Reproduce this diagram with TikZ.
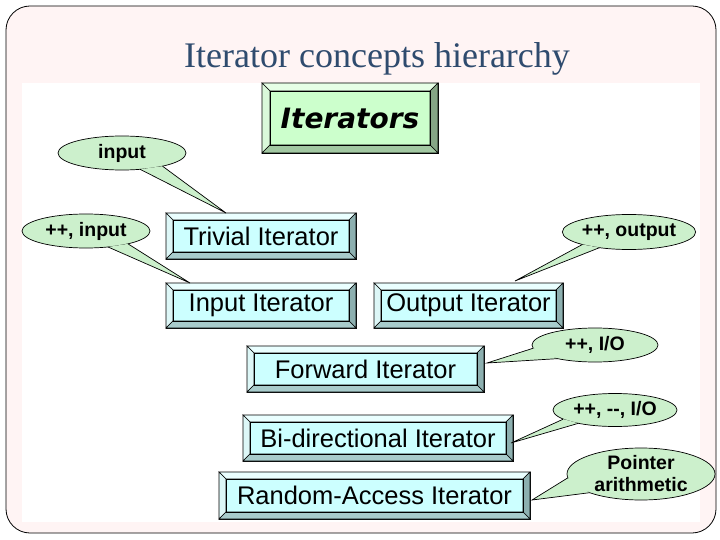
\documentclass[tikz,border=0pt]{standalone}
\usepackage{fontspec}
\setmainfont{Liberation Sans}
\newfontfamily\titlefont{Liberation Serif}
\newfontfamily\comicfont{DejaVu Sans}
\usetikzlibrary{shapes.geometric,calc}
\definecolor{slidebg}{HTML}{FFF4F4}
\definecolor{titleblue}{HTML}{2F4B6E}
\definecolor{cface}{HTML}{CCFFFF}
\definecolor{ctop}{HTML}{EAFFFF}
\definecolor{cleft}{HTML}{DDF7F7}
\definecolor{cright}{HTML}{8DB0B0}
\definecolor{cbot}{HTML}{A8CCCC}
\definecolor{gface}{HTML}{CCFFCC}
\definecolor{gtop}{HTML}{E6FFE6}
\definecolor{gleft}{HTML}{DAF8DA}
\definecolor{gright}{HTML}{86A686}
\definecolor{gbot}{HTML}{A2C8A2}
\definecolor{bubfill}{HTML}{CCF0CC}
\tikzset{
  bevnode/.style={rectangle, draw=black, line width=0.7pt, inner sep=0pt, outer sep=0pt},
  bevline/.style={draw=black, line width=0.6pt, line join=miter},
  ctext/.style={font=\fontsize{25.5}{28}\selectfont, inner sep=0pt},
  gtext/.style={font=\comicfont\bfseries\itshape\fontsize{28}{32}\selectfont, inner sep=0pt},
  bubble/.style={ellipse, draw=black, fill=bubfill, line width=0.7pt, inner sep=0pt,
    outer sep=0pt, font=\bfseries\fontsize{19.5}{22}\selectfont, align=center},
  bubline/.style={draw=black, line width=0.7pt, line join=miter},
}
% #1 name, #2 cx, #3 cy, #4 w, #5 h, #6 colour prefix, #7 inset, #8 text
\newcommand\bevbox[8]{%
  \node[bevnode, minimum width=#4pt, minimum height=#5pt, fill=#6face] (#1) at (#2,#3) {};
  \coordinate (#1-inw) at ([shift={(#7pt,-#7pt)}]#1.north west);
  \coordinate (#1-ine) at ([shift={(-#7pt,-#7pt)}]#1.north east);
  \coordinate (#1-ise) at ([shift={(-#7pt,#7pt)}]#1.south east);
  \coordinate (#1-isw) at ([shift={(#7pt,#7pt)}]#1.south west);
  \filldraw[bevline, fill=#6top] (#1.north west) -- (#1.north east) -- (#1-ine) -- (#1-inw) -- cycle;
  \filldraw[bevline, fill=#6left] (#1.north west) -- (#1-inw) -- (#1-isw) -- (#1.south west) -- cycle;
  \filldraw[bevline, fill=#6right] (#1.north east) -- (#1.south east) -- (#1-ise) -- (#1-ine) -- cycle;
  \filldraw[bevline, fill=#6bot] (#1.south west) -- (#1-isw) -- (#1-ise) -- (#1.south east) -- cycle;
  \draw[bevline] (#1-inw) rectangle (#1-ise);
  \node[#6text] (#1-t) at ($(#1-inw)!0.5!(#1-ise)$) {#8};
}
% #1 bubble, #2 angle, #3 angle, #4 tip
\newcommand\bubtail[4]{%
  \fill[bubfill] (#1.#2) -- (#4) -- (#1.#3) -- cycle;
  \draw[bubline] (#1.#2) -- (#4) -- (#1.#3);
}
\begin{document}
\begin{tikzpicture}[x=1pt,y=-1pt]
\useasboundingbox (0,0) rectangle (720,540);
% slide
\draw[fill=slidebg, line width=0.8pt, rounded corners=24pt] (6,6) rectangle (716,533);
\fill[white] (22,83) rectangle (700,522);
\node[font=\titlefont\fontsize{36}{40}\selectfont, text=titleblue, anchor=base] (title) at (377,68) {Iterator concepts hierarchy};
% boxes
\bevbox{iter}{350}{118}{176}{70}{g}{8}{Iterators}
\bevbox{triv}{261}{236}{190}{46}{c}{7}{Trivial Iterator}
\bevbox{inp}{261}{305.5}{190}{45}{c}{7}{Input Iterator}
\bevbox{outp}{468.5}{305.5}{189}{45}{c}{7}{Output Iterator}
\bevbox{fwd}{365.5}{369}{237}{46}{c}{7}{Forward Iterator}
\bevbox{bidi}{378}{438}{270}{46}{c}{7}{Bi-directional Iterator}
\bevbox{rand}{374.5}{495.5}{311}{47}{c}{7}{Random-Access Iterator}
% tips
\coordinate (t1) at (226,213);
\coordinate (t2) at (190,283);
\coordinate (t3) at (515,281);
\coordinate (t4) at (487,363);
\coordinate (t5) at (511,443);
\coordinate (t6) at (532,500);
% bubbles
\node[bubble, minimum width=128pt, minimum height=34pt] (b1) at (122,153) {input};
\bubtail{b1}{318}{342}{t1}
\node[bubble, minimum width=128pt, minimum height=34pt] (b2) at (86,231) {++, input};
\bubtail{b2}{324}{343}{t2}
\node[bubble, minimum width=126pt, minimum height=35pt] (b3) at (629,232) {++, output};
\bubtail{b3}{195}{208}{t3}
\node[bubble, minimum width=126pt, minimum height=34pt] (b4) at (595,345) {++, I/O};
\bubtail{b4}{183}{200}{t4}
\node[bubble, minimum width=124pt, minimum height=33pt] (b5) at (615,410) {++, -{}-, I/O};
\bubtail{b5}{190}{200}{t5}
\node[bubble, minimum width=148pt, minimum height=52pt] (b6) at (641,474) {Pointer\\arithmetic};
\bubtail{b6}{183}{200}{t6}
\end{tikzpicture}
\end{document}
